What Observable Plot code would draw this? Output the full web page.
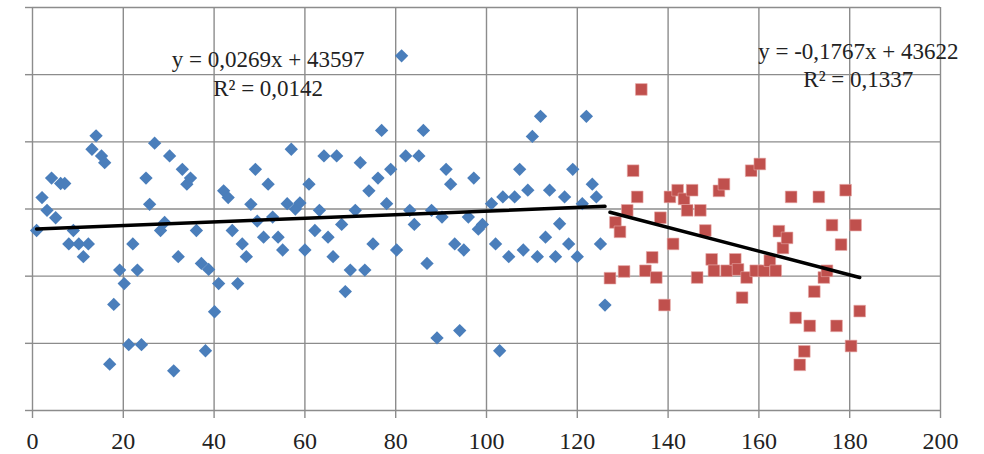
<!DOCTYPE html>
<html>
<head>
<meta charset="utf-8">
<script src="https://cdn.jsdelivr.net/npm/d3@7"></script>
<script src="https://cdn.jsdelivr.net/npm/@observablehq/plot@0.6"></script>
<style>
  html, body { margin: 0; padding: 0; background: #fff; }
  #chart { width: 984px; height: 454px; overflow: hidden; }
  #chart svg text { font-family: 'Liberation Serif', 'Times New Roman', serif; }
</style>
</head>
<body>
<div id="chart"></div>
<script>
// ---- data ----
const blueX = [0.9, 2.1, 3.2, 4.2, 5.1, 6.2, 7.1, 8.0, 9.0, 10.2, 11.2, 12.3, 13.1, 14.0, 15.2, 15.9, 17.0, 17.9, 19.2, 20.2,
  21.2, 22.1, 23.1, 24.0, 25.0, 25.8, 26.9, 28.2, 29.1, 30.2, 31.1, 32.1, 33.0, 34.0, 34.8, 36.1, 37.2, 38.1, 38.8, 40.1,
  41.0, 42.1, 43.1, 44.0, 45.2, 46.2, 47.1, 48.1, 49.1, 49.5, 50.9, 51.9, 52.9, 54.1, 55.1, 56.1, 57.0, 57.9, 58.9, 60.0,
  60.9, 62.2, 63.2, 64.2, 65.1, 66.2, 67.0, 68.1, 68.9, 70.0, 71.1, 72.2, 73.2, 74.1, 75.0, 76.1, 76.9, 78.0, 78.9, 80.2,
  81.3, 82.2, 83.1, 84.1, 85.1, 86.1, 86.9, 87.9, 89.1, 90.2, 91.1, 92.1, 93.0, 94.1, 95.0, 96.0, 97.2, 98.2, 99.1, 101.1,
  102.0, 102.9, 103.6, 104.9, 106.2, 107.3, 108.1, 109.1, 110.1, 111.2, 111.9, 113.0, 113.9, 115.2, 116.1, 117.2, 118.1, 119.0, 120.0, 121.1,
  122.0, 123.3, 124.2, 125.1, 126.1];
const blueY = [43596.8, 43601.7, 43599.8, 43604.6, 43598.7, 43603.8, 43603.8, 43594.8, 43596.8, 43594.8, 43592.9, 43594.8, 43608.9, 43610.9, 43607.9, 43606.9, 43576.9, 43585.8, 43590.9, 43588.9,
  43579.8, 43594.8, 43590.9, 43579.8, 43604.6, 43600.7, 43609.8, 43596.8, 43598.0, 43607.9, 43575.9, 43592.9, 43605.9, 43603.7, 43604.6, 43596.8, 43591.9, 43578.9, 43591.0, 43584.7,
  43588.9, 43602.7, 43601.7, 43596.8, 43588.9, 43594.8, 43592.9, 43600.7, 43605.9, 43598.2, 43595.8, 43603.7, 43598.8, 43595.8, 43593.9, 43600.8, 43608.9, 43600.0, 43600.9, 43593.9,
  43603.7, 43596.8, 43599.8, 43607.9, 43595.8, 43592.9, 43607.9, 43597.7, 43587.7, 43590.9, 43599.8, 43606.9, 43590.9, 43602.7, 43594.8, 43604.6, 43611.7, 43600.8, 43605.9, 43593.9,
  43622.8, 43607.9, 43599.8, 43597.7, 43607.9, 43611.7, 43591.9, 43599.8, 43580.8, 43598.8, 43605.9, 43603.7, 43594.8, 43581.9, 43593.9, 43598.8, 43604.6, 43597.0, 43597.7, 43600.8,
  43594.8, 43578.9, 43601.8, 43592.9, 43601.8, 43605.9, 43593.9, 43602.8, 43610.8, 43592.9, 43613.8, 43595.8, 43602.8, 43592.9, 43597.8, 43601.8, 43594.8, 43605.9, 43592.9, 43600.8,
  43613.8, 43603.7, 43601.8, 43594.8, 43585.7];

const redX = [127.2, 128.4, 129.4, 130.3, 131.0, 132.3, 133.2, 134.1, 135.0, 136.5, 137.4, 138.3, 139.2, 140.4, 141.1, 142.1, 143.5, 144.2, 145.3, 146.4,
  147.1, 148.2, 149.6, 150.1, 151.2, 152.3, 152.9, 154.8, 155.4, 156.3, 157.3, 158.3, 159.3, 160.2, 161.1, 162.4, 163.7, 164.4, 165.3, 166.2,
  167.1, 168.1, 169.0, 170.0, 171.2, 172.2, 173.2, 174.3, 175.0, 176.1, 177.1, 178.1, 179.1, 180.3, 181.3, 182.2];
const redY = [43589.7, 43598.0, 43596.6, 43590.7, 43599.8, 43605.7, 43601.8, 43617.8, 43590.8, 43592.8, 43589.8, 43598.7, 43585.7, 43601.8, 43594.8, 43602.8, 43601.5, 43599.8, 43602.8, 43589.8,
  43599.8, 43596.8, 43592.5, 43590.8, 43602.7, 43603.7, 43590.8, 43592.5, 43591.0, 43586.8, 43589.8, 43605.7, 43590.8, 43606.7, 43590.8, 43592.3, 43590.8, 43596.7, 43594.2, 43595.7,
  43601.8, 43583.8, 43576.8, 43578.8, 43582.6, 43587.7, 43601.8, 43589.8, 43590.8, 43597.6, 43582.6, 43594.7, 43602.8, 43579.6, 43597.6, 43584.8];

const xTicks = [0, 20, 40, 60, 80, 100, 120, 140, 160, 180, 200];
const yTicks = [43570, 43580, 43590, 43600, 43610, 43620, 43630];

const trendSlopes = [0.0269, -0.1767];
const trendIntercepts = [43597, 43622];
const equationLabels = ["y = 0,0269x + 43597\nR\u00B2 = 0,0142", "y = -0,1767x + 43622\nR\u00B2 = 0,1337"];

// ---- build tables ----
const blue = blueX.map((x, i) => ({x, y: blueY[i]}));
const red = redX.map((x, i) => ({x, y: redY[i]}));
const series = [blue, red];
const trends = series.map((s, k) => {
  const [x0, x1] = d3.extent(s, d => d.x);
  return [x0, x1].map(x => ({x, y: trendSlopes[k] * x + trendIntercepts[k]}));
});
// label anchors (data units), placed as in the reference
const labelAnchors = [
  {x: 51.9, y: 43620.4, text: equationLabels[0]},
  {x: 181.9, y: 43621.6, text: equationLabels[1]}
];

const gridColor = "#8c8c8c";
const serif = "'Liberation Serif', 'Times New Roman', serif";
const chart = Plot.plot({
  width: 984,
  height: 454,
  marginLeft: 32,
  marginRight: 44,
  marginTop: 7,
  marginBottom: 44,
  style: {fontFamily: serif, fontSize: "22px", background: "#fff", color: "#222"},
  x: {domain: [0, 200]},
  y: {domain: [43570, 43630]},
  marks: [
    Plot.gridX(xTicks, {stroke: gridColor, strokeOpacity: 1, strokeWidth: 1.4}),
    Plot.gridY(yTicks, {stroke: gridColor, strokeOpacity: 1, strokeWidth: 1.4}),
    Plot.axisX(xTicks, {tickSize: 8, tickPadding: 13, stroke: gridColor, strokeWidth: 1.4, fill: "#222", label: null, fontSize: 24, fontFamily: serif}),
    Plot.axisY(yTicks, {tickSize: 7, tickFormat: () => "", stroke: gridColor, strokeWidth: 1.4, label: null}),
    Plot.dot(blue, {x: "x", y: "y", symbol: "diamond2", r: 6, fill: "#4A7EBB", stroke: "none"}),
    Plot.dot(red, {x: "x", y: "y", symbol: "square", r: 6.6, fill: "#C0504D", stroke: "#e8a9a7", strokeWidth: 0.6}),
    ...trends.map(t => Plot.line(t, {x: "x", y: "y", stroke: "#000", strokeWidth: 3.5})),
    Plot.text(labelAnchors, {x: "x", y: "y", text: "text", fontSize: 23, fontFamily: serif, lineHeight: 1.25, fill: "#222", textAnchor: "middle"})
  ]
});
// enforce the tick-label font on the axis texts (numbers only)
d3.select(chart).selectAll("text")
  .filter(function() { return /^\d+$/.test(this.textContent.trim()); })
  .attr("font-size", 24)
  .style("font-size", "24px")
  .style("font-family", serif);
document.getElementById("chart").appendChild(chart);
</script>
</body>
</html>
